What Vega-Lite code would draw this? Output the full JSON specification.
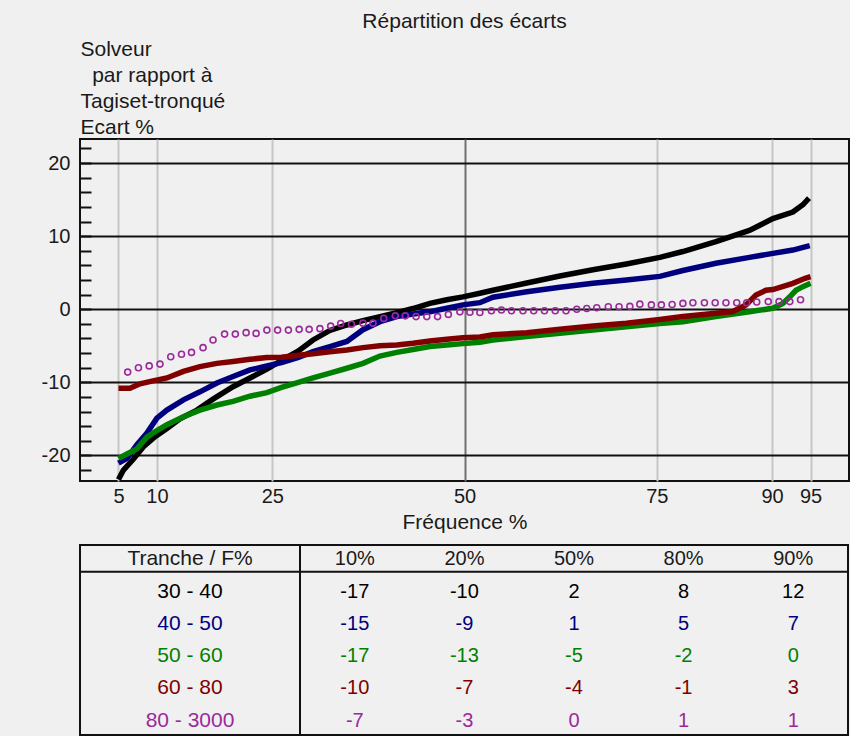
{
  "$schema": "https://vega.github.io/schema/vega-lite/v6.json",
  "background": "#f0f0f0",
  "padding": {"left": 40, "top": 10, "right": 0, "bottom": 0},
  "config": {
    "font": "Liberation Sans",
    "view": {"stroke": "#111111", "strokeWidth": 2},
    "axis": {"labelColor": "#1a1a1a", "titleColor": "#1a1a1a", "labelFont": "Liberation Sans", "titleFont": "Liberation Sans"}
  },
  "datasets": {
    "series": [
      {"tranche": "30 - 40", "f": 5, "ecart": -23.3},
      {"tranche": "30 - 40", "f": 5.65, "ecart": -22},
      {"tranche": "30 - 40", "f": 6.95, "ecart": -20.5},
      {"tranche": "30 - 40", "f": 8.25, "ecart": -18.8},
      {"tranche": "30 - 40", "f": 9.8, "ecart": -17.4},
      {"tranche": "30 - 40", "f": 11.3, "ecart": -16.3},
      {"tranche": "30 - 40", "f": 13, "ecart": -15.0},
      {"tranche": "30 - 40", "f": 15.2, "ecart": -13.8},
      {"tranche": "30 - 40", "f": 17.3, "ecart": -12.3},
      {"tranche": "30 - 40", "f": 19.9, "ecart": -10.6},
      {"tranche": "30 - 40", "f": 22.1, "ecart": -9.4},
      {"tranche": "30 - 40", "f": 24.3, "ecart": -8.2},
      {"tranche": "30 - 40", "f": 26.4, "ecart": -6.9},
      {"tranche": "30 - 40", "f": 28.4, "ecart": -5.7},
      {"tranche": "30 - 40", "f": 30.3, "ecart": -4.2},
      {"tranche": "30 - 40", "f": 32.5, "ecart": -2.9},
      {"tranche": "30 - 40", "f": 34.7, "ecart": -2.15},
      {"tranche": "30 - 40", "f": 36.8, "ecart": -1.55},
      {"tranche": "30 - 40", "f": 39, "ecart": -1.0},
      {"tranche": "30 - 40", "f": 41.2, "ecart": -0.45},
      {"tranche": "30 - 40", "f": 43.3, "ecart": 0.1},
      {"tranche": "30 - 40", "f": 45.5, "ecart": 0.8},
      {"tranche": "30 - 40", "f": 47.7, "ecart": 1.3},
      {"tranche": "30 - 40", "f": 49.8, "ecart": 1.7},
      {"tranche": "30 - 40", "f": 52, "ecart": 2.2},
      {"tranche": "30 - 40", "f": 53.7, "ecart": 2.6},
      {"tranche": "30 - 40", "f": 58.1, "ecart": 3.6},
      {"tranche": "30 - 40", "f": 62.4, "ecart": 4.55},
      {"tranche": "30 - 40", "f": 66.7, "ecart": 5.4},
      {"tranche": "30 - 40", "f": 71.05, "ecart": 6.2},
      {"tranche": "30 - 40", "f": 75.4, "ecart": 7.1},
      {"tranche": "30 - 40", "f": 78.4, "ecart": 7.9},
      {"tranche": "30 - 40", "f": 82.7, "ecart": 9.25},
      {"tranche": "30 - 40", "f": 87.05, "ecart": 10.8},
      {"tranche": "30 - 40", "f": 90.1, "ecart": 12.4},
      {"tranche": "30 - 40", "f": 92.7, "ecart": 13.3},
      {"tranche": "30 - 40", "f": 94, "ecart": 14.3},
      {"tranche": "30 - 40", "f": 94.8, "ecart": 15.2},

      {"tranche": "40 - 50", "f": 5, "ecart": -21.05},
      {"tranche": "40 - 50", "f": 6.1, "ecart": -20.4},
      {"tranche": "40 - 50", "f": 7.4, "ecart": -18.55},
      {"tranche": "40 - 50", "f": 8.7, "ecart": -16.95},
      {"tranche": "40 - 50", "f": 10, "ecart": -14.9},
      {"tranche": "40 - 50", "f": 11.3, "ecart": -13.8},
      {"tranche": "40 - 50", "f": 13.45, "ecart": -12.4},
      {"tranche": "40 - 50", "f": 15.6, "ecart": -11.3},
      {"tranche": "40 - 50", "f": 17.8, "ecart": -10.1},
      {"tranche": "40 - 50", "f": 19.9, "ecart": -9.2},
      {"tranche": "40 - 50", "f": 22.1, "ecart": -8.3},
      {"tranche": "40 - 50", "f": 24.3, "ecart": -7.75},
      {"tranche": "40 - 50", "f": 26.2, "ecart": -7.3},
      {"tranche": "40 - 50", "f": 28.4, "ecart": -6.6},
      {"tranche": "40 - 50", "f": 30.3, "ecart": -5.8},
      {"tranche": "40 - 50", "f": 32.5, "ecart": -5.1},
      {"tranche": "40 - 50", "f": 34.7, "ecart": -4.4},
      {"tranche": "40 - 50", "f": 36.8, "ecart": -2.8},
      {"tranche": "40 - 50", "f": 39, "ecart": -1.7},
      {"tranche": "40 - 50", "f": 41.2, "ecart": -1.0},
      {"tranche": "40 - 50", "f": 43.3, "ecart": -0.65},
      {"tranche": "40 - 50", "f": 45.5, "ecart": -0.33},
      {"tranche": "40 - 50", "f": 47.7, "ecart": 0.13},
      {"tranche": "40 - 50", "f": 49.8, "ecart": 0.6},
      {"tranche": "40 - 50", "f": 52, "ecart": 0.9},
      {"tranche": "40 - 50", "f": 53.7, "ecart": 1.64},
      {"tranche": "40 - 50", "f": 58.1, "ecart": 2.4},
      {"tranche": "40 - 50", "f": 62.4, "ecart": 3.0},
      {"tranche": "40 - 50", "f": 66.7, "ecart": 3.55},
      {"tranche": "40 - 50", "f": 71.05, "ecart": 4.0},
      {"tranche": "40 - 50", "f": 75.4, "ecart": 4.5},
      {"tranche": "40 - 50", "f": 78.4, "ecart": 5.3},
      {"tranche": "40 - 50", "f": 82.7, "ecart": 6.3},
      {"tranche": "40 - 50", "f": 87.05, "ecart": 7.1},
      {"tranche": "40 - 50", "f": 90.1, "ecart": 7.65},
      {"tranche": "40 - 50", "f": 92.7, "ecart": 8.1},
      {"tranche": "40 - 50", "f": 94.9, "ecart": 8.7},

      {"tranche": "50 - 60", "f": 5, "ecart": -20.4},
      {"tranche": "50 - 60", "f": 6.1, "ecart": -19.8},
      {"tranche": "50 - 60", "f": 7.4, "ecart": -19.1},
      {"tranche": "50 - 60", "f": 8.7, "ecart": -17.5},
      {"tranche": "50 - 60", "f": 10, "ecart": -16.6},
      {"tranche": "50 - 60", "f": 11.3, "ecart": -15.8},
      {"tranche": "50 - 60", "f": 13.45, "ecart": -14.7},
      {"tranche": "50 - 60", "f": 15.6, "ecart": -13.8},
      {"tranche": "50 - 60", "f": 17.8, "ecart": -13.1},
      {"tranche": "50 - 60", "f": 19.9, "ecart": -12.6},
      {"tranche": "50 - 60", "f": 22.1, "ecart": -11.9},
      {"tranche": "50 - 60", "f": 24.3, "ecart": -11.4},
      {"tranche": "50 - 60", "f": 26.2, "ecart": -10.7},
      {"tranche": "50 - 60", "f": 28.4, "ecart": -10.0},
      {"tranche": "50 - 60", "f": 30.3, "ecart": -9.4},
      {"tranche": "50 - 60", "f": 32.5, "ecart": -8.75},
      {"tranche": "50 - 60", "f": 34.7, "ecart": -8.07},
      {"tranche": "50 - 60", "f": 36.8, "ecart": -7.4},
      {"tranche": "50 - 60", "f": 39, "ecart": -6.4},
      {"tranche": "50 - 60", "f": 41.2, "ecart": -5.9},
      {"tranche": "50 - 60", "f": 43.3, "ecart": -5.5},
      {"tranche": "50 - 60", "f": 45.5, "ecart": -5.1},
      {"tranche": "50 - 60", "f": 47.7, "ecart": -4.9},
      {"tranche": "50 - 60", "f": 49.8, "ecart": -4.7},
      {"tranche": "50 - 60", "f": 52, "ecart": -4.5},
      {"tranche": "50 - 60", "f": 53.7, "ecart": -4.2},
      {"tranche": "50 - 60", "f": 58.1, "ecart": -3.74},
      {"tranche": "50 - 60", "f": 62.4, "ecart": -3.28},
      {"tranche": "50 - 60", "f": 66.7, "ecart": -2.83},
      {"tranche": "50 - 60", "f": 71.05, "ecart": -2.38},
      {"tranche": "50 - 60", "f": 75.4, "ecart": -1.95},
      {"tranche": "50 - 60", "f": 78.4, "ecart": -1.7},
      {"tranche": "50 - 60", "f": 82.7, "ecart": -1.0},
      {"tranche": "50 - 60", "f": 87.05, "ecart": -0.33},
      {"tranche": "50 - 60", "f": 90.1, "ecart": 0.13},
      {"tranche": "50 - 60", "f": 91.4, "ecart": 0.8},
      {"tranche": "50 - 60", "f": 92.3, "ecart": 1.7},
      {"tranche": "50 - 60", "f": 93.1, "ecart": 2.6},
      {"tranche": "50 - 60", "f": 94, "ecart": 3.1},
      {"tranche": "50 - 60", "f": 95, "ecart": 3.55},

      {"tranche": "60 - 80", "f": 5, "ecart": -10.8},
      {"tranche": "60 - 80", "f": 6.5, "ecart": -10.8},
      {"tranche": "60 - 80", "f": 7.8, "ecart": -10.2},
      {"tranche": "60 - 80", "f": 9.5, "ecart": -9.8},
      {"tranche": "60 - 80", "f": 11.3, "ecart": -9.4},
      {"tranche": "60 - 80", "f": 13.45, "ecart": -8.5},
      {"tranche": "60 - 80", "f": 15.6, "ecart": -7.85},
      {"tranche": "60 - 80", "f": 17.8, "ecart": -7.4},
      {"tranche": "60 - 80", "f": 19.9, "ecart": -7.15},
      {"tranche": "60 - 80", "f": 22.1, "ecart": -6.85},
      {"tranche": "60 - 80", "f": 24.3, "ecart": -6.6},
      {"tranche": "60 - 80", "f": 26.2, "ecart": -6.55},
      {"tranche": "60 - 80", "f": 28.4, "ecart": -6.3},
      {"tranche": "60 - 80", "f": 30.3, "ecart": -6.1},
      {"tranche": "60 - 80", "f": 32.5, "ecart": -5.8},
      {"tranche": "60 - 80", "f": 34.7, "ecart": -5.56},
      {"tranche": "60 - 80", "f": 36.8, "ecart": -5.25},
      {"tranche": "60 - 80", "f": 39, "ecart": -5.0},
      {"tranche": "60 - 80", "f": 41.2, "ecart": -4.9},
      {"tranche": "60 - 80", "f": 43.3, "ecart": -4.65},
      {"tranche": "60 - 80", "f": 45.5, "ecart": -4.33},
      {"tranche": "60 - 80", "f": 47.7, "ecart": -4.1},
      {"tranche": "60 - 80", "f": 49.8, "ecart": -3.9},
      {"tranche": "60 - 80", "f": 52, "ecart": -3.8},
      {"tranche": "60 - 80", "f": 53.7, "ecart": -3.5},
      {"tranche": "60 - 80", "f": 58.1, "ecart": -3.2},
      {"tranche": "60 - 80", "f": 62.4, "ecart": -2.74},
      {"tranche": "60 - 80", "f": 66.7, "ecart": -2.28},
      {"tranche": "60 - 80", "f": 71.05, "ecart": -1.92},
      {"tranche": "60 - 80", "f": 75.4, "ecart": -1.4},
      {"tranche": "60 - 80", "f": 78.4, "ecart": -1.0},
      {"tranche": "60 - 80", "f": 82.7, "ecart": -0.55},
      {"tranche": "60 - 80", "f": 84.9, "ecart": -0.3},
      {"tranche": "60 - 80", "f": 86.6, "ecart": 0.6},
      {"tranche": "60 - 80", "f": 87.9, "ecart": 1.95},
      {"tranche": "60 - 80", "f": 89.2, "ecart": 2.6},
      {"tranche": "60 - 80", "f": 90.1, "ecart": 2.7},
      {"tranche": "60 - 80", "f": 92.7, "ecart": 3.55},
      {"tranche": "60 - 80", "f": 94.3, "ecart": 4.24},
      {"tranche": "60 - 80", "f": 95, "ecart": 4.46},

      {"tranche": "80 - 3000", "f": 6.2, "ecart": -8.6},
      {"tranche": "80 - 3000", "f": 7.6, "ecart": -8.0},
      {"tranche": "80 - 3000", "f": 9.0, "ecart": -7.75},
      {"tranche": "80 - 3000", "f": 10.4, "ecart": -7.5},
      {"tranche": "80 - 3000", "f": 11.8, "ecart": -6.5},
      {"tranche": "80 - 3000", "f": 13.2, "ecart": -6.15},
      {"tranche": "80 - 3000", "f": 14.5, "ecart": -5.9},
      {"tranche": "80 - 3000", "f": 16.0, "ecart": -5.25},
      {"tranche": "80 - 3000", "f": 17.3, "ecart": -4.2},
      {"tranche": "80 - 3000", "f": 18.8, "ecart": -3.4},
      {"tranche": "80 - 3000", "f": 20.2, "ecart": -3.4},
      {"tranche": "80 - 3000", "f": 21.6, "ecart": -3.2},
      {"tranche": "80 - 3000", "f": 22.9, "ecart": -3.3},
      {"tranche": "80 - 3000", "f": 24.3, "ecart": -2.85},
      {"tranche": "80 - 3000", "f": 25.7, "ecart": -2.85},
      {"tranche": "80 - 3000", "f": 27.1, "ecart": -2.85},
      {"tranche": "80 - 3000", "f": 28.5, "ecart": -2.75},
      {"tranche": "80 - 3000", "f": 29.8, "ecart": -2.75},
      {"tranche": "80 - 3000", "f": 31.2, "ecart": -2.65},
      {"tranche": "80 - 3000", "f": 32.6, "ecart": -2.3},
      {"tranche": "80 - 3000", "f": 33.9, "ecart": -1.95},
      {"tranche": "80 - 3000", "f": 35.3, "ecart": -2.05},
      {"tranche": "80 - 3000", "f": 36.8, "ecart": -1.9},
      {"tranche": "80 - 3000", "f": 38.1, "ecart": -1.9},
      {"tranche": "80 - 3000", "f": 39.5, "ecart": -1.25},
      {"tranche": "80 - 3000", "f": 41.0, "ecart": -0.9},
      {"tranche": "80 - 3000", "f": 42.3, "ecart": -0.9},
      {"tranche": "80 - 3000", "f": 43.7, "ecart": -1.0},
      {"tranche": "80 - 3000", "f": 45.1, "ecart": -1.0},
      {"tranche": "80 - 3000", "f": 46.5, "ecart": -1.0},
      {"tranche": "80 - 3000", "f": 47.9, "ecart": -0.7},
      {"tranche": "80 - 3000", "f": 49.4, "ecart": -0.35},
      {"tranche": "80 - 3000", "f": 50.7, "ecart": -0.4},
      {"tranche": "80 - 3000", "f": 52.0, "ecart": -0.45},
      {"tranche": "80 - 3000", "f": 53.5, "ecart": -0.2},
      {"tranche": "80 - 3000", "f": 54.8, "ecart": -0.1},
      {"tranche": "80 - 3000", "f": 56.1, "ecart": -0.2},
      {"tranche": "80 - 3000", "f": 57.6, "ecart": -0.2},
      {"tranche": "80 - 3000", "f": 59.0, "ecart": -0.2},
      {"tranche": "80 - 3000", "f": 60.4, "ecart": -0.2},
      {"tranche": "80 - 3000", "f": 61.8, "ecart": -0.2},
      {"tranche": "80 - 3000", "f": 63.2, "ecart": -0.2},
      {"tranche": "80 - 3000", "f": 64.6, "ecart": 0.0},
      {"tranche": "80 - 3000", "f": 65.9, "ecart": 0.1},
      {"tranche": "80 - 3000", "f": 67.2, "ecart": 0.2},
      {"tranche": "80 - 3000", "f": 68.7, "ecart": 0.35},
      {"tranche": "80 - 3000", "f": 70.1, "ecart": 0.35},
      {"tranche": "80 - 3000", "f": 71.5, "ecart": 0.4},
      {"tranche": "80 - 3000", "f": 72.8, "ecart": 0.7},
      {"tranche": "80 - 3000", "f": 74.3, "ecart": 0.6},
      {"tranche": "80 - 3000", "f": 75.6, "ecart": 0.6},
      {"tranche": "80 - 3000", "f": 77.0, "ecart": 0.65},
      {"tranche": "80 - 3000", "f": 78.4, "ecart": 0.8},
      {"tranche": "80 - 3000", "f": 79.7, "ecart": 0.9},
      {"tranche": "80 - 3000", "f": 81.2, "ecart": 0.9},
      {"tranche": "80 - 3000", "f": 82.6, "ecart": 0.9},
      {"tranche": "80 - 3000", "f": 84.0, "ecart": 0.9},
      {"tranche": "80 - 3000", "f": 85.4, "ecart": 0.9},
      {"tranche": "80 - 3000", "f": 86.7, "ecart": 0.9},
      {"tranche": "80 - 3000", "f": 88.0, "ecart": 1.0},
      {"tranche": "80 - 3000", "f": 89.5, "ecart": 1.05},
      {"tranche": "80 - 3000", "f": 90.9, "ecart": 1.05},
      {"tranche": "80 - 3000", "f": 92.3, "ecart": 1.05},
      {"tranche": "80 - 3000", "f": 93.7, "ecart": 1.3}
    ],
    "table": [
      {"tranche": "30 - 40", "freq": "10%", "value": -17},
      {"tranche": "30 - 40", "freq": "20%", "value": -10},
      {"tranche": "30 - 40", "freq": "50%", "value": 2},
      {"tranche": "30 - 40", "freq": "80%", "value": 8},
      {"tranche": "30 - 40", "freq": "90%", "value": 12},
      {"tranche": "40 - 50", "freq": "10%", "value": -15},
      {"tranche": "40 - 50", "freq": "20%", "value": -9},
      {"tranche": "40 - 50", "freq": "50%", "value": 1},
      {"tranche": "40 - 50", "freq": "80%", "value": 5},
      {"tranche": "40 - 50", "freq": "90%", "value": 7},
      {"tranche": "50 - 60", "freq": "10%", "value": -17},
      {"tranche": "50 - 60", "freq": "20%", "value": -13},
      {"tranche": "50 - 60", "freq": "50%", "value": -5},
      {"tranche": "50 - 60", "freq": "80%", "value": -2},
      {"tranche": "50 - 60", "freq": "90%", "value": 0},
      {"tranche": "60 - 80", "freq": "10%", "value": -10},
      {"tranche": "60 - 80", "freq": "20%", "value": -7},
      {"tranche": "60 - 80", "freq": "50%", "value": -4},
      {"tranche": "60 - 80", "freq": "80%", "value": -1},
      {"tranche": "60 - 80", "freq": "90%", "value": 3},
      {"tranche": "80 - 3000", "freq": "10%", "value": -7},
      {"tranche": "80 - 3000", "freq": "20%", "value": -3},
      {"tranche": "80 - 3000", "freq": "50%", "value": 0},
      {"tranche": "80 - 3000", "freq": "80%", "value": 1},
      {"tranche": "80 - 3000", "freq": "90%", "value": 1}
    ],
    "tranches": [
      {"tranche": "30 - 40"},
      {"tranche": "40 - 50"},
      {"tranche": "50 - 60"},
      {"tranche": "60 - 80"},
      {"tranche": "80 - 3000"}
    ],
    "freqs": [
      {"freq": "10%"},
      {"freq": "20%"},
      {"freq": "50%"},
      {"freq": "80%"},
      {"freq": "90%"}
    ],
    "header": [
      {"label": "Tranche / F%", "first": "30 - 40"}
    ]
  },
  "vconcat": [
    {
      "title": {"text": "Répartition des écarts", "fontSize": 21, "fontWeight": "normal", "color": "#1a1a1a", "anchor": "middle", "frame": "group", "offset": 6},
      "width": 769,
      "height": 342,
      "data": {"name": "series"},
      "layer": [
        {
          "transform": [{"filter": "datum.tranche !== '80 - 3000'"}],
          "mark": {"type": "line", "strokeWidth": 5.5, "clip": true},
          "encoding": {
            "x": {
              "field": "f", "type": "quantitative",
              "scale": {"domain": [0, 100], "nice": false, "zero": false},
              "axis": {
                "values": [5, 10, 25, 50, 75, 90, 95],
                "tickCount": 100,
                "title": "Fréquence %",
                "grid": true,
                "gridColor": {"condition": {"test": "datum.value === 50", "value": "#707070"}, "value": "#c6c6c6"},
                "gridWidth": 2,
                "ticks": false,
                "domain": false,
                "labelFontSize": 20,
                "labelPadding": 5,
                "labelOverlap": false,
                "labelFlush": false,
                "labelExpr": "toString(datum.value)",
                "titleFontSize": 21,
                "titleFontWeight": "normal",
                "titlePadding": 5
              }
            },
            "y": {
              "field": "ecart", "type": "quantitative",
              "scale": {"domain": [-23.5, 23.3], "nice": false, "zero": false},
              "axis": {
                "values": [-22, -20, -18, -16, -14, -12, -10, -8, -6, -4, -2, 0, 2, 4, 6, 8, 10, 12, 14, 16, 18, 20, 22],
                "tickCount": 100,
                "labelExpr": "datum.value % 10 === 0 ? toString(datum.value) : ''",
                "labelOverlap": false,
                "labelFontSize": 20,
                "labelPadding": 21,
                "grid": true,
                "gridColor": "#111111",
                "gridWidth": 2,
                "gridOpacity": {"condition": {"test": "datum.value % 10 === 0", "value": 1}, "value": 0},
                "ticks": true,
                "tickSize": -11,
                "tickWidth": 2,
                "tickColor": "#111111",
                "domain": false,
                "title": ["Solveur", "\u200b\u00a0\u00a0par rapport à", "Tagiset-tronqué", "Ecart %"],
                "titleAngle": 0,
                "titleAlign": "left",
                "titleBaseline": "alphabetic",
                "titleX": 0,
                "titleY": -84,
                "titleLineHeight": 26,
                "titleFontSize": 21,
                "titleFontWeight": "normal"
              }
            },
            "color": {
              "field": "tranche", "type": "nominal",
              "scale": {"domain": ["30 - 40", "40 - 50", "50 - 60", "60 - 80", "80 - 3000"], "range": ["#000000", "#00007f", "#008000", "#800000", "#9a2a9a"]},
              "legend": null
            }
          }
        },
        {
          "transform": [{"filter": "datum.tranche === '80 - 3000'"}],
          "mark": {"type": "point", "shape": "circle", "filled": false, "size": 36, "strokeWidth": 1.6, "opacity": 1},
          "encoding": {
            "x": {"field": "f", "type": "quantitative"},
            "y": {"field": "ecart", "type": "quantitative"},
            "color": {
              "field": "tranche", "type": "nominal",
              "scale": {"domain": ["30 - 40", "40 - 50", "50 - 60", "60 - 80", "80 - 3000"], "range": ["#000000", "#00007f", "#008000", "#800000", "#9a2a9a"]},
              "legend": null
            }
          }
        }
      ]
    },
    {
      "hconcat": [
        {
          "width": 220,
          "height": 190,
          "layer": [
            {
              "data": {"name": "tranches"},
              "mark": {"type": "text", "fontSize": 21, "baseline": "middle", "align": "center"},
              "encoding": {
                "y": {"field": "tranche", "type": "ordinal", "scale": {"type": "point", "domain": ["Tranche / F%", "30 - 40", "40 - 50", "50 - 60", "60 - 80", "80 - 3000"], "padding": 0.45}, "axis": null},
                "text": {"field": "tranche", "type": "nominal"},
                "color": {
                  "field": "tranche", "type": "nominal",
                  "scale": {"domain": ["30 - 40", "40 - 50", "50 - 60", "60 - 80", "80 - 3000"], "range": ["#1a1a1a", "#1c1c8c", "#159015", "#8c1414", "#9a2a9a"]},
                  "legend": null
                }
              }
            },
            {
              "data": {"name": "header"},
              "mark": {"type": "text", "fontSize": 21, "baseline": "middle", "align": "center", "color": "#1a1a1a"},
              "encoding": {
                "y": {"field": "label", "type": "ordinal"},
                "text": {"field": "label", "type": "nominal"}
              }
            },
            {
              "data": {"name": "header"},
              "mark": {"type": "rule", "strokeWidth": 2, "color": "#111111", "yOffset": -20},
              "encoding": {"y": {"field": "first", "type": "ordinal"}}
            }
          ]
        },
        {
          "width": 548,
          "height": 190,
          "layer": [
            {
              "data": {"name": "table"},
              "mark": {"type": "text", "fontSize": 20, "baseline": "middle", "align": "center"},
              "encoding": {
                "x": {"field": "freq", "type": "ordinal", "scale": {"type": "point", "domain": ["10%", "20%", "50%", "80%", "90%"], "padding": 0.5}, "axis": null},
                "y": {"field": "tranche", "type": "ordinal", "scale": {"type": "point", "domain": ["Tranche / F%", "30 - 40", "40 - 50", "50 - 60", "60 - 80", "80 - 3000"], "padding": 0.45}, "axis": null},
                "text": {"field": "value", "type": "nominal"},
                "color": {
                  "field": "tranche", "type": "nominal",
                  "scale": {"domain": ["30 - 40", "40 - 50", "50 - 60", "60 - 80", "80 - 3000"], "range": ["#1a1a1a", "#1c1c8c", "#159015", "#8c1414", "#9a2a9a"]},
                  "legend": null
                }
              }
            },
            {
              "data": {"name": "freqs"},
              "mark": {"type": "text", "fontSize": 20, "baseline": "middle", "align": "center", "color": "#1a1a1a"},
              "encoding": {
                "x": {"field": "freq", "type": "ordinal"},
                "y": {"datum": "Tranche / F%", "type": "ordinal"},
                "text": {"field": "freq", "type": "nominal"}
              }
            },
            {
              "data": {"name": "header"},
              "mark": {"type": "rule", "strokeWidth": 2, "color": "#111111", "yOffset": -20},
              "encoding": {"y": {"field": "first", "type": "ordinal"}}
            }
          ]
        }
      ],
      "spacing": 0,
      "bounds": "flush"
    }
  ],
  "spacing": 64,
  "bounds": "flush"
}
